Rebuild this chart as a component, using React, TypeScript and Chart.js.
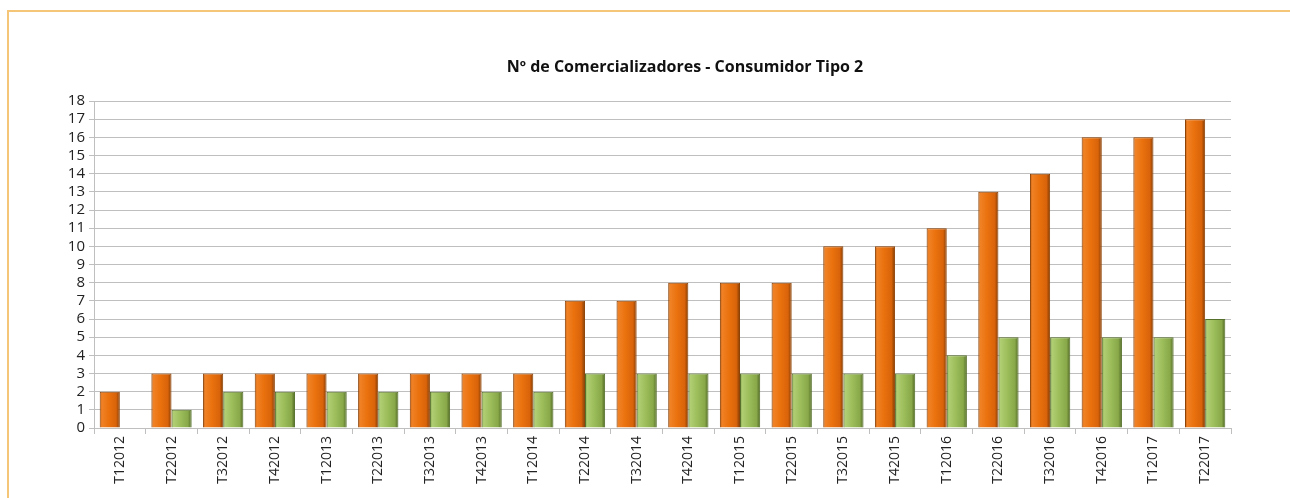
import React, { useEffect, useRef } from "react";
import { Chart, registerables } from "chart.js";

Chart.register(...registerables);

const TITLE = "Nº de Comercializadores - Consumidor Tipo 2";

const categories = [
  "T12012", "T22012", "T32012", "T42012",
  "T12013", "T22013", "T32013", "T42013",
  "T12014", "T22014", "T32014", "T42014",
  "T12015", "T22015", "T32015", "T42015",
  "T12016", "T22016", "T32016", "T42016",
  "T12017", "T22017",
];

const seriesOrange: (number | null)[] = [2, 3, 3, 3, 3, 3, 3, 3, 3, 7, 7, 8, 8, 8, 10, 10, 11, 13, 14, 16, 16, 17];
const seriesGreen: (number | null)[] = [null, 1, 2, 2, 2, 2, 2, 2, 2, 3, 3, 3, 3, 3, 3, 3, 4, 5, 5, 5, 5, 6];

const yMax = 18;
const CAT_PCT = 0.78;

const orangeStops: [number, string][] = [
  [0, "#A84E05"], [0.1, "#F08226"], [0.45, "#EA710D"], [0.82, "#D8630A"], [1, "#7E3A04"],
];
const greenStops: [number, string][] = [
  [0, "#6F8E38"], [0.1, "#B0CE73"], [0.45, "#9CBD5A"], [0.82, "#88A849"], [1, "#4E6623"],
];

function makeGradient(ctx: any, dsIndex: number, stops: [number, string][]) {
  const chart = ctx.chart;
  const xs = chart.scales?.x;
  if (!xs || ctx.dataIndex === undefined) return stops[2][1];
  const catW = (xs.right - xs.left) / categories.length;
  const slot = (catW * CAT_PCT) / 2;
  const center = xs.getPixelForValue(ctx.dataIndex);
  const left = center - slot + dsIndex * slot;
  const right = left + slot;
  if (!isFinite(left) || !isFinite(right)) return stops[2][1];
  const g = chart.ctx.createLinearGradient(left, 0, right, 0);
  stops.forEach(([o, c]) => g.addColorStop(o, c));
  return g;
}

const titlePlugin = {
  id: "customTitle",
  afterDraw(chart: any) {
    const c = chart.ctx;
    c.save();
    c.font = "bold 16px 'Open Sans', sans-serif";
    c.fillStyle = "#111";
    c.textAlign = "center";
    c.textBaseline = "middle";
    c.fillText(TITLE, 677, 57);
    c.restore();
  },
};

export default function App() {
  const ref = useRef<HTMLCanvasElement>(null);

  useEffect(() => {
    if (!ref.current) return;
    const chart = new Chart(ref.current, {
      type: "bar",
      data: {
        labels: categories,
        datasets: [
          {
            label: "Consumidor Tipo 2 (total)",
            data: seriesOrange,
            backgroundColor: (ctx: any) => makeGradient(ctx, 0, orangeStops),
            borderColor: "#8E4306",
            borderWidth: 1,
            categoryPercentage: CAT_PCT,
            barPercentage: 1,
          },
          {
            label: "Consumidor Tipo 2",
            data: seriesGreen,
            backgroundColor: (ctx: any) => makeGradient(ctx, 1, greenStops),
            borderColor: "#55702A",
            borderWidth: 1,
            categoryPercentage: CAT_PCT,
            barPercentage: 1,
          },
        ],
      },
      plugins: [titlePlugin],
      options: {
        animation: false,
        responsive: false,
        maintainAspectRatio: false,
        layout: { padding: { top: 91, right: 58, left: 0, bottom: 0 } },
        plugins: {
          legend: { display: false },
          title: { display: false },
          tooltip: { enabled: false },
        },
        scales: {
          x: {
            offset: true,
            grid: {
              offset: true,
              drawOnChartArea: false,
              drawTicks: true,
              tickLength: 6,
              color: "#BFBFBF",
            },
            border: { color: "#BFBFBF" },
            ticks: {
              minRotation: 90,
              maxRotation: 90,
              autoSkip: false,
              color: "#222",
              font: { family: "'Open Sans', sans-serif", size: 14 },
              padding: 2,
            },
            afterFit: (s: any) => { s.height = 68; },
          },
          y: {
            min: 0,
            max: yMax,
            ticks: {
              stepSize: 1,
              autoSkip: false,
              color: "#222",
              font: { family: "'Open Sans', sans-serif", size: 15 },
              padding: 4,
            },
            grid: {
              color: "#BFBFBF",
              drawTicks: true,
              tickLength: 5,
            },
            border: { color: "#BFBFBF" },
            afterFit: (s: any) => { s.width = 86; },
          },
        },
      },
    });
    return () => chart.destroy();
  }, []);

  return (
    <div
      style={{
        position: "absolute",
        left: 7,
        top: 10,
        width: 1283,
        height: 488,
        borderTop: "2px solid #F6C678",
        borderLeft: "2px solid #F6C678",
        boxSizing: "border-box",
        background: "#fff",
      }}
    >
      <canvas
        ref={ref}
        width={1281}
        height={486}
        style={{ position: "absolute", left: -1, top: -2, width: 1281, height: 486 }}
      />
    </div>
  );
}
